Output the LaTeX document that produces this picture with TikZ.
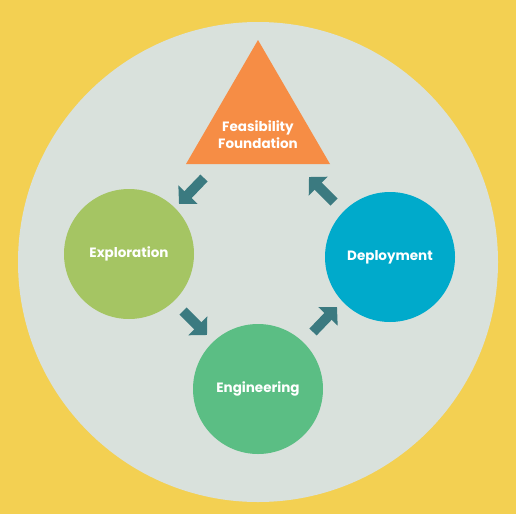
\documentclass[tikz,border=0pt]{standalone}
\usepackage{fontspec}
\setmainfont{Poppins}
\usetikzlibrary{arrows.meta}
\definecolor{bgyellow}{HTML}{F3D052}
\definecolor{disc}{HTML}{D9E1DC}
\definecolor{orng}{HTML}{F68D45}
\definecolor{lgreen}{HTML}{A5C563}
\definecolor{mgreen}{HTML}{5BBE84}
\definecolor{cyanb}{HTML}{00AACB}
\definecolor{teal}{HTML}{3B7A80}
\tikzset{
  lbl/.style={text=white, font=\bfseries\fontsize{13.5}{17}\selectfont},
  stage/.style={circle, minimum size=130pt, inner sep=0pt, lbl},
  flow/.style={draw=teal, line width=10pt, -{Triangle[width=26pt,length=13pt]}},
}
\begin{document}
\begin{tikzpicture}[x=1pt,y=-1pt]
\fill[bgyellow] (0,0) rectangle (516,514);
\useasboundingbox (0,0) rectangle (516,514);
\fill[disc] (258,262) circle (240);
\fill[orng] (258,40) -- (330,164) -- (186,164) -- cycle;
\node[lbl, align=center] (found) at (258,135) {Feasibility\\Foundation};
\node[stage, fill=lgreen] (expl) at (129,254) {Exploration};
\node[stage, fill=mgreen] (eng) at (258,389) {Engineering};
\node[stage, fill=cyanb] (depl) at (390,257) {Deployment};
\coordinate (a1s) at (204,178); \coordinate (a1e) at (179,204);
\coordinate (a2s) at (334,202); \coordinate (a2e) at (309,177);
\coordinate (a3s) at (183,311); \coordinate (a3e) at (207,335);
\coordinate (a4s) at (313,332); \coordinate (a4e) at (337,307);
\draw[flow] (a1s) -- (a1e);
\draw[flow] (a2s) -- (a2e);
\draw[flow] (a3s) -- (a3e);
\draw[flow] (a4s) -- (a4e);
\end{tikzpicture}
\end{document}
